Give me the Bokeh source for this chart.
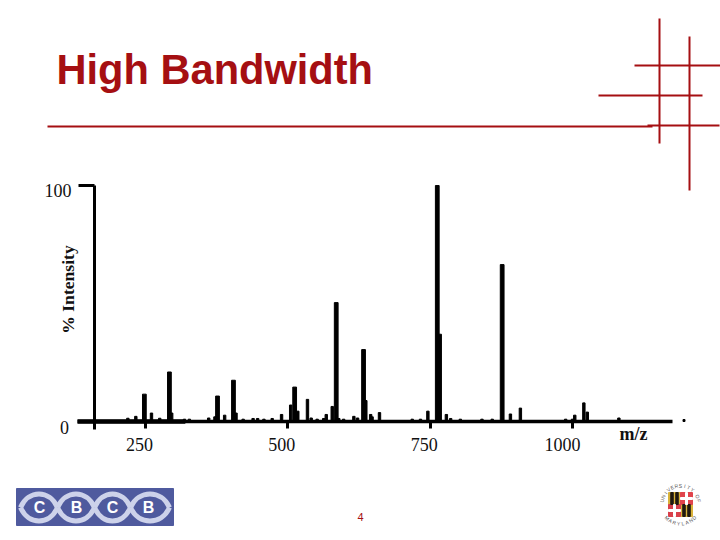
from math import cos, pi, sin
from bokeh.core.properties import value
from bokeh.embed import file_html
from bokeh.models import ColumnDataSource, FixedTicker, LinearAxis, Range1d
from bokeh.plotting import figure
from bokeh.resources import INLINE

# ---- chart data ----
major_mz = [248, 292, 376.5, 404.5, 512, 585, 633, 762.5, 766.5, 876.5]
major_int = [11.6, 21, 10.8, 17.5, 14.6, 50.4, 30.5, 100, 37, 66.5]
minor_mz = [219, 233, 260.5, 275, 296, 318.5, 327, 361, 372, 389, 409, 421.5, 439, 447,
            458, 472.5, 489, 505, 517.5, 534.5, 541, 551.5, 563, 567.5, 578, 589.5, 598,
            616, 622.5, 637, 645.5, 648, 661, 718.5, 733, 746, 778.5, 786, 803, 841, 859,
            891, 908.5, 988, 1000, 1004, 1020, 1026, 1081.5]
minor_int = [1.4, 2.2, 3.6, 1.4, 3.6, 1, 1, 1.5, 2, 2.7, 3.6, 1, 1.3, 1.3,
             1, 1.3, 3, 7, 4.4, 9.4, 1.5, 1, 1.3, 3, 6.4, 1.3, 1,
             2.2, 1.5, 8.9, 3, 2, 3.8, 1, 1, 4.4, 3, 1.3, 1, 1, 1,
             3.2, 5.7, 1, 1, 2.7, 7.9, 4, 1.5]
x_ticks = [250, 500, 750, 1000]
x_tick_labels = ["250", "500", "750", "1000"]
y_ticks = [0, 100]
y_tick_labels = ["0", "100"]
title_text = "High Bandwidth"
x_name = "m/z"
y_name = "% Intensity"
slide_number = "4"

RED = "#a50f12"
SERIF = value("Liberation Serif")
SANS = value("Liberation Sans")

p = figure(width=720, height=540, output_backend="svg", toolbar_location=None,
           x_range=Range1d(-4.7, 1260.0), y_range=Range1d(-50.4, 178.4),
           x_axis_type=None, y_axis_type=None, min_border=0, outline_line_color=None)
p.grid.visible = False
# second coordinate system: page pixels, for the slide decoration
p.extra_x_ranges["px"] = Range1d(0, 720)
p.extra_y_ranges["px"] = Range1d(540, 0)
PX = dict(x_range_name="px", y_range_name="px")

# ---- spectrum ----
major_src = ColumnDataSource(dict(x=major_mz, top=major_int))
minor_src = ColumnDataSource(dict(x=minor_mz, top=minor_int))
p.vbar(x="x", top="top", bottom=0, width=6.6, source=major_src, color="black")
p.vbar(x="x", top="top", bottom=0, width=4.2, source=minor_src, color="black")

xaxis = LinearAxis(fixed_location=0, bounds=(130.6, 1175.7),
                   ticker=FixedTicker(ticks=x_ticks),
                   axis_line_width=3.5, axis_line_color="black",
                   major_tick_in=0, major_tick_out=7, minor_tick_out=0, minor_tick_in=0,
                   major_tick_line_width=3, major_tick_line_color="black",
                   major_label_text_color=None)
p.add_layout(xaxis, "below")
yaxis = LinearAxis(fixed_location=160.4, bounds=(-3.4, 100),
                   ticker=FixedTicker(ticks=[y_ticks[1]]),
                   axis_line_width=3, axis_line_color="black",
                   major_tick_in=0, major_tick_out=16, minor_tick_out=0, minor_tick_in=0,
                   major_tick_line_width=3, major_tick_line_color="black",
                   major_label_text_color=None)
p.add_layout(yaxis, "left")

# thicker start of the base line
p.segment(x0=[130.6], y0=[0], x1=[320], y1=[0], line_width=4.5, color="black")

# tick labels (offset from the ticks as in the slide)
p.text(x=x_ticks, y=-9.7, text=x_tick_labels, x_offset=[-6, -6, -6, -10], text_align="center",
       text_baseline="middle", text_font=SERIF, text_font_size="18px", text_color="#111111")
p.text(x=[64, 57.5], y=[y_ticks[0] - 2.6, y_ticks[1] - 2.2], text=y_tick_labels, x_range_name="px",
       text_align="center", text_baseline="middle", text_font=SERIF,
       text_font_size="18px", text_color="#111111")
p.text(x=[67], y=[289], text=[y_name], angle=pi / 2, text_align="center", text_baseline="middle",
       text_font=SERIF, text_font_style="bold", text_font_size="17.6px", text_color="#111111", **PX)
p.text(x=[633], y=[433], text=[x_name], text_align="center", text_baseline="middle",
       text_font=SERIF, text_font_style="bold", text_font_size="18px", text_color="#111111", **PX)
p.rect(x=[683.5], y=[420], width=[2], height=[2], color="black", **PX)

# ---- title and red rules ----
p.text(x=[56], y=[69], text=[title_text], text_align="left", text_baseline="middle",
       text_font=SANS, text_font_style="bold", text_font_size="41.6px", text_color=RED, **PX)
p.text(x=[360], y=[516], text=[slide_number], text_align="center", text_baseline="middle",
       text_font=SANS, text_font_size="11px", text_color=RED, **PX)
p.segment(x0=[47, 659, 689, 634, 598, 647], y0=[126, 18, 36, 65, 95, 125],
          x1=[652, 659, 689, 720, 702, 719], y1=[126, 143, 190, 65, 95, 125],
          line_width=2, color=RED, **PX)

# ---- CBCB logo ----
p.rect(x=[94.5], y=[506.5], width=[157], height=[37], color="#4f5a9e", **PX)
bx0 = [20, 57, 94, 130, 20, 57, 94, 130]
bx1 = [57, 94, 130, 169, 57, 94, 130, 169]
cy = [489, 489, 489, 489, 525, 525, 525, 525]
p.bezier(x0=bx0, y0=[507] * 8, x1=bx1, y1=[507] * 8,
         cx0=[x + 8 for x in bx0], cy0=cy, cx1=[x - 8 for x in bx1], cy1=cy,
         line_color="#cdd2ea", line_width=5, **PX)
p.text(x=[39, 76, 112, 148], y=[507] * 4, text=["C", "B", "C", "B"], text_align="center",
       text_baseline="middle", text_font=SANS, text_font_style="bold", text_font_size="16px",
       text_color="white", **PX)

# ---- university seal ----
sx, sy, sr = 680, 504, 19
ring = [(ch, (168 - i * 13) * pi / 180, True) for i, ch in enumerate("UNIVERSITY OF")]
ring += [(ch, (225 + i * 13) * pi / 180, False) for i, ch in enumerate("MARYLAND")]
p.text(x=[sx + sr * cos(a) for _, a, _ in ring], y=[sy - sr * sin(a) for _, a, _ in ring],
       text=[c for c, _, _ in ring],
       angle=[(a - pi / 2) if top else (a + pi / 2) for _, a, top in ring],
       text_align="center", text_baseline="middle", text_font=SANS, text_font_size="5px",
       text_color="#555555", **PX)
p.rect(x=[674, 686, 674, 686], y=[498, 510, 510, 498], width=[12] * 4, height=[12] * 4,
       color=["#d9b23a", "#d9b23a", "#d9404a", "#e0444c"], **PX)
p.rect(x=[671.5, 676.5, 683.5, 688.5], y=[498, 498, 510, 510], width=[2.5] * 4, height=[12] * 4,
       color="#201a10", **PX)
p.rect(x=[674, 686], y=[510, 498], width=[2, 2], height=[12, 12], color="white", **PX)
p.rect(x=[674, 686], y=[510, 498], width=[12, 12], height=[2, 2], color="white", **PX)

open("out.html", "w").write(file_html(p, INLINE))
